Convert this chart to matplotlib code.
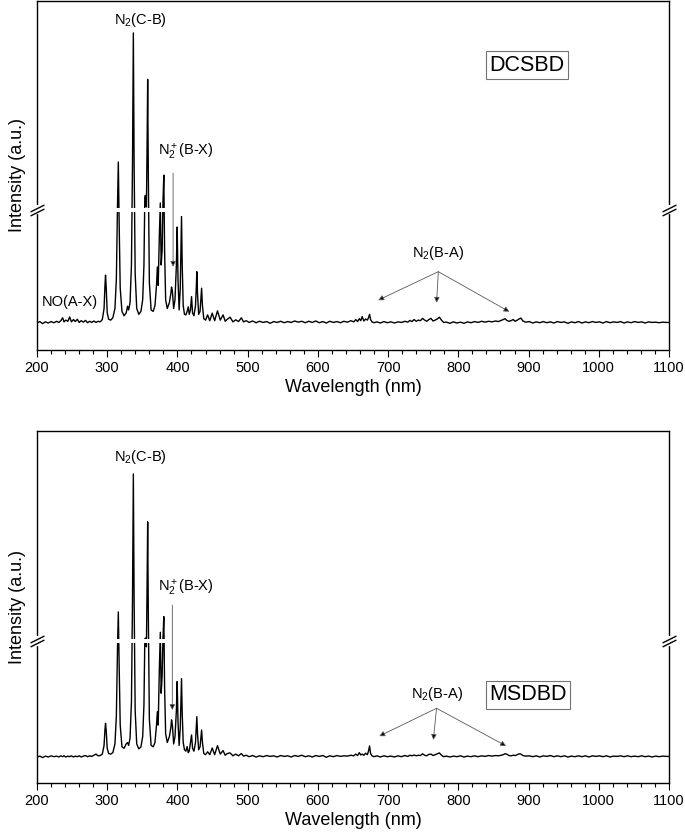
"""Optical emission spectra of the DCSBD and MSDBD discharges (broken intensity axis)."""
import matplotlib
matplotlib.use("Agg")
import matplotlib.pyplot as plt
from matplotlib.ticker import MultipleLocator
from matplotlib.transforms import blended_transform_factory

plt.rcParams["font.family"] = "Liberation Sans"
plt.rcParams["mathtext.fontset"] = "custom"
plt.rcParams["mathtext.rm"] = "Liberation Sans"
plt.rcParams["mathtext.it"] = "Liberation Sans:italic"
plt.rcParams["mathtext.bf"] = "Liberation Sans:bold"

# wavelength grid (nm), shared by both spectra
WAVELENGTH = [
    200, 204, 208, 212, 216, 220, 224, 228, 231, 234,
    236.5, 238.5, 241, 244, 246.5, 249, 252, 254.5, 257.5, 260,
    263, 266, 269, 272, 275, 278, 281, 284, 287, 290,
    293, 295.5, 296.8, 297.6, 298.6, 300, 302, 305, 308, 311,
    313, 314.6, 315.8, 316.9, 318.5, 321, 324, 327, 329, 330.5,
    332.5, 334.5, 336, 337.2, 338.3, 339.8, 342, 345, 348, 350.5,
    352.3, 353.5, 354.3, 355.8, 356.8, 357.6, 358.5, 360, 362.5, 365.5,
    368, 370.2, 371.4, 372.6, 374.2, 375.6, 376.8, 378.2, 379.4, 380.6,
    381.7, 383.2, 385.5, 388.5, 390.5, 391.6, 392.8, 394.6, 396.5, 398.5,
    399.6, 400.8, 402.4, 404, 404.9, 405.8, 406.8, 408.2, 410, 412,
    413.8, 415.4, 416.8, 418.5, 420.1, 421.5, 423.5, 425.7, 426.8, 427.6,
    428.6, 430.2, 432.2, 433.5, 434.4, 435.6, 437.5, 440, 443, 446,
    449.5, 453, 457, 461, 465, 468, 471, 475, 479, 483,
    487, 491, 494, 498,
    502, 507, 512, 517, 522, 527, 532, 537, 542, 547,
    552, 557, 562, 567, 572, 577, 582, 587, 592, 597,
    602, 607, 612, 617, 622, 627, 632, 637, 642, 647,
    651, 654, 656.5, 659, 661, 663, 665.5, 668, 670.5, 672,
    673.6, 675, 677, 680, 684, 689, 694, 699, 704, 709,
    714, 719, 724, 728, 731, 734, 737, 740, 743, 746,
    749, 752, 755, 758, 761, 764, 767, 770, 773, 776,
    779, 783, 788, 793, 798, 803, 808, 813, 818, 823,
    828, 833, 838, 843, 848, 853, 857, 861, 864, 866.5,
    869, 872, 875, 878, 881, 884, 886.5, 889, 892, 896,
    901, 906, 911, 916, 921, 926, 931, 936, 941, 946,
    951, 956, 961, 966, 971, 976, 981, 986, 991, 996,
    1001, 1006, 1011, 1016, 1021, 1026, 1031, 1036, 1041, 1046,
    1051, 1056, 1061, 1066, 1071, 1076, 1081, 1086, 1091, 1096,
    1100,
]

# displayed intensity (a.u., compressed above the axis break)
I_DCSBD = [
    0.000, 0.005, -0.002, 0.004, 0.000, 0.005, 0.001, 0.006, 0.002, 0.008,
    0.018, 0.004, 0.010, 0.006, 0.021, 0.004, 0.012, 0.005, 0.013, 0.002,
    0.008, 0.003, 0.009, 0.001, 0.006, 0.002, 0.007, 0.002, 0.006, 0.004,
    0.012, 0.05, 0.13, 0.165, 0.12, 0.035, 0.013, 0.01, 0.018, 0.05,
    0.15, 0.40, 0.555, 0.36, 0.12, 0.04, 0.025, 0.035, 0.058, 0.045,
    0.07, 0.2, 0.55, 1.0, 0.55, 0.17, 0.05, 0.03, 0.04, 0.08,
    0.2, 0.43, 0.44, 0.40, 0.62, 0.84, 0.52, 0.14, 0.045, 0.04,
    0.06, 0.13, 0.193, 0.13, 0.3, 0.414, 0.2, 0.25, 0.42, 0.51,
    0.25, 0.08, 0.05, 0.07, 0.1, 0.124, 0.11, 0.05, 0.08, 0.2,
    0.331, 0.15, 0.045, 0.12, 0.25, 0.367, 0.2, 0.06, 0.03, 0.028,
    0.04, 0.056, 0.03, 0.045, 0.091, 0.035, 0.025, 0.06, 0.12, 0.177,
    0.1, 0.03, 0.04, 0.09, 0.12, 0.06, 0.015, 0.01, 0.028, 0.008,
    0.034, 0.008, 0.042, 0.01, 0.028, 0.006, 0.013, 0.02, 0.004, 0.011,
    0.005, 0.018, 0.004, 0.008,
    0.002, 0.007, 0.001, 0.006, 0.002, 0.005, -0.001, 0.005, 0.002, 0.006,
    0.001, 0.005, 0.002, 0.007, 0.003, 0.006, 0.001, 0.006, 0.002, 0.007,
    0.001, 0.005, 0.0, 0.006, 0.002, 0.005, 0.001, 0.006, 0.003, 0.008,
    0.004, 0.012, 0.005, 0.015, 0.008, 0.022, 0.007, 0.014, 0.01, 0.018,
    0.03, 0.012, 0.004, 0.001, 0.004, 0.0, 0.005, 0.001, 0.004, 0.0,
    0.004, 0.002, 0.006, 0.003, 0.009, 0.005, 0.012, 0.006, 0.01, 0.008,
    0.016, 0.01, 0.006, 0.012, 0.016, 0.007, 0.01, 0.014, 0.02, 0.01,
    0.002, 0.003, -0.001, 0.004, 0.0, 0.003, -0.001, 0.004, 0.001, 0.005,
    0.002, 0.006, 0.003, 0.006, 0.004, 0.007, 0.005, 0.009, 0.012, 0.015,
    0.009, 0.006, 0.008, 0.012, 0.006, 0.01, 0.014, 0.017, 0.007, 0.003,
    0.005, 0.0, 0.004, 0.001, 0.005, 0.001, 0.004, 0.0, 0.005, 0.002,
    0.004, -0.001, 0.004, 0.001, 0.005, 0.0, 0.004, 0.001, 0.005, 0.002,
    0.004, 0.0, 0.005, 0.001, 0.004, 0.002, 0.005, 0.0, 0.004, 0.001,
    0.005, 0.002, 0.004, 0.0, 0.004, 0.002, 0.003, 0.001, 0.003, 0.002,
    0.002,
]

I_MSDBD = [
    0.000, 0.003, -0.002, 0.003, 0.000, 0.004, 0.001, 0.003, 0.000, 0.004,
    0.001, 0.004, 0.000, 0.003, 0.001, 0.004, 0.000, 0.003, 0.001, 0.004,
    0.000, 0.003, 0.005, 0.001, 0.004, 0.002, 0.006, 0.010, 0.004, 0.005,
    0.010, 0.04, 0.095, 0.116, 0.09, 0.03, 0.012, 0.01, 0.015, 0.045,
    0.14, 0.37, 0.50, 0.33, 0.11, 0.035, 0.03, 0.045, 0.05, 0.04,
    0.065, 0.19, 0.54, 0.976, 0.54, 0.16, 0.045, 0.028, 0.035, 0.07,
    0.18, 0.40, 0.41, 0.38, 0.6, 0.811, 0.5, 0.13, 0.04, 0.035,
    0.05, 0.11, 0.156, 0.11, 0.3, 0.43, 0.22, 0.28, 0.41, 0.484,
    0.24, 0.08, 0.05, 0.07, 0.1, 0.128, 0.11, 0.045, 0.07, 0.16,
    0.26, 0.12, 0.04, 0.1, 0.19, 0.27, 0.15, 0.05, 0.025, 0.02,
    0.036, 0.015, 0.02, 0.05, 0.076, 0.03, 0.02, 0.05, 0.1, 0.139,
    0.08, 0.025, 0.035, 0.07, 0.093, 0.05, 0.012, 0.008, 0.018, 0.008,
    0.031, 0.008, 0.039, 0.01, 0.022, 0.006, 0.012, 0.014, 0.004, 0.01,
    0.004, 0.012, 0.003, 0.006,
    0.001, 0.005, 0.0, 0.004, 0.001, 0.005, 0.002, 0.004, 0.0, 0.005,
    0.002, 0.004, 0.0, 0.005, 0.002, 0.006, 0.001, 0.004, 0.0, 0.005,
    0.002, 0.005, -0.001, 0.004, 0.001, 0.005, 0.002, 0.004, 0.003, 0.006,
    0.004, 0.01, 0.005, 0.015, 0.007, 0.01, 0.006, 0.013, 0.008, 0.02,
    0.038, 0.012, 0.004, 0.001, 0.004, 0.0, 0.004, 0.001, 0.003, 0.0,
    0.004, 0.001, 0.005, 0.002, 0.006, 0.004, 0.007, 0.004, 0.006, 0.005,
    0.011, 0.006, 0.004, 0.009, 0.01, 0.005, 0.008, 0.011, 0.014, 0.006,
    0.001, 0.003, 0.0, 0.003, 0.001, 0.004, 0.0, 0.003, 0.001, 0.004,
    0.001, 0.004, 0.002, 0.005, 0.003, 0.005, 0.004, 0.006, 0.008, 0.011,
    0.01, 0.005, 0.004, 0.006, 0.005, 0.008, 0.011, 0.01, 0.005, 0.003,
    0.004, 0.001, 0.004, 0.0, 0.004, 0.002, 0.005, 0.001, 0.004, 0.001,
    0.004, 0.0, 0.003, 0.001, 0.004, 0.001, 0.004, 0.0, 0.004, 0.002,
    0.004, 0.001, 0.004, 0.0, 0.003, 0.002, 0.004, 0.001, 0.004, 0.001,
    0.003, 0.001, 0.004, 0.001, 0.003, 0.0, 0.003, 0.001, 0.003, 0.002,
    0.002,
]

PANEL_NAMES = ["DCSBD", "MSDBD"]
BREAK_LEVELS = [0.39, 0.40]

assert len(WAVELENGTH) == len(I_DCSBD) == len(I_MSDBD)


def draw_break(ax, level):
    # white band cutting through the peaks
    ax.axhspan(level - 0.007, level + 0.007, color="white", lw=0, zorder=3)
    tr = blended_transform_factory(ax.transAxes, ax.transData)
    for xa in (0, 1):
        ax.plot([xa, xa], [level - 0.009, level + 0.009], transform=tr,
                color="white", lw=3, clip_on=False, zorder=5)
        for dy in (-0.008, 0.008):
            ax.plot([xa], [level + dy], transform=tr, linestyle="none",
                    marker=[(-1, -0.5), (1, 0.5)], ms=10, mew=1.0,
                    color="black", clip_on=False, zorder=6)


def arrow(ax, start, end):
    ax.annotate("", xy=end, xytext=start,
                arrowprops=dict(arrowstyle="-|>", ec="0.35", fc="black",
                                lw=0.6, mutation_scale=8,
                                shrinkA=0, shrinkB=0))


def style_axes(ax, ylim):
    ax.set_xlim(200, 1100)
    ax.set_ylim(*ylim)
    ax.xaxis.set_major_locator(MultipleLocator(100))
    ax.xaxis.set_minor_locator(MultipleLocator(20))
    ax.set_yticks([])
    ax.tick_params(axis="x", which="major", direction="out", length=5,
                   width=0.8, labelsize=10.5, pad=3)
    ax.tick_params(axis="x", which="minor", direction="out", length=3,
                   width=0.8)
    for s in ax.spines.values():
        s.set_linewidth(1.0)
    ax.set_xlabel("Wavelength (nm)", fontsize=13, labelpad=3)
    ax.set_ylabel("Intensity (a.u.)", fontsize=13, labelpad=8)


def main():
    fig = plt.figure(figsize=(6.85, 8.38), dpi=100)
    ax1 = fig.add_axes([37 / 685, 1 - 350 / 838, 632 / 685, 349 / 838])
    ax2 = fig.add_axes([37 / 685, 1 - 783 / 838, 632 / 685, 352 / 838])

    # --- top: DCSBD
    ax1.plot(WAVELENGTH, I_DCSBD, color="black", lw=1.0, zorder=2)
    style_axes(ax1, (-0.093, 1.110))
    draw_break(ax1, BREAK_LEVELS[0])
    ax1.text(346.7, 1.045, r"N$_2$(C-B)", ha="center", va="center", fontsize=10.5)
    ax1.text(411.5, 0.59, r"N$_2^+$(B-X)", ha="center", va="center", fontsize=10.5)
    arrow(ax1, (393.8, 0.517), (393.8, 0.194))
    ax1.text(247, 0.072, "NO(A-X)", ha="center", va="center", fontsize=10.5)
    ax1.text(771.5, 0.241, r"N$_2$(B-A)", ha="center", va="center", fontsize=10.5)
    for tip in [(686, 0.079), (769, 0.07), (872.6, 0.039)]:
        arrow(ax1, (771.5, 0.177), tip)
    ax1.text(897.5, 0.889, PANEL_NAMES[0], ha="center", va="center", fontsize=15.5,
             bbox=dict(boxstyle="square,pad=0.15", fc="white", ec="0.45", lw=0.8))

    # --- bottom: MSDBD
    ax2.plot(WAVELENGTH, I_MSDBD, color="black", lw=1.0, zorder=2)
    style_axes(ax2, (-0.0897, 1.124))
    draw_break(ax2, BREAK_LEVELS[1])
    ax2.text(346.7, 1.034, r"N$_2$(C-B)", ha="center", va="center", fontsize=10.5)
    ax2.text(411.5, 0.582, r"N$_2^+$(B-X)", ha="center", va="center", fontsize=10.5)
    arrow(ax2, (392.7, 0.524), (392.7, 0.162))
    ax2.text(769, 0.216, r"N$_2$(B-A)", ha="center", va="center", fontsize=10.5)
    for tip in [(687.5, 0.072), (764.4, 0.059), (868, 0.038)]:
        arrow(ax2, (769, 0.168), tip)
    ax2.text(898.6, 0.214, PANEL_NAMES[1], ha="center", va="center", fontsize=15.5,
             bbox=dict(boxstyle="square,pad=0.15", fc="white", ec="0.45", lw=0.8))

    fig.savefig("out.png", dpi=100)


if __name__ == "__main__":
    main()
